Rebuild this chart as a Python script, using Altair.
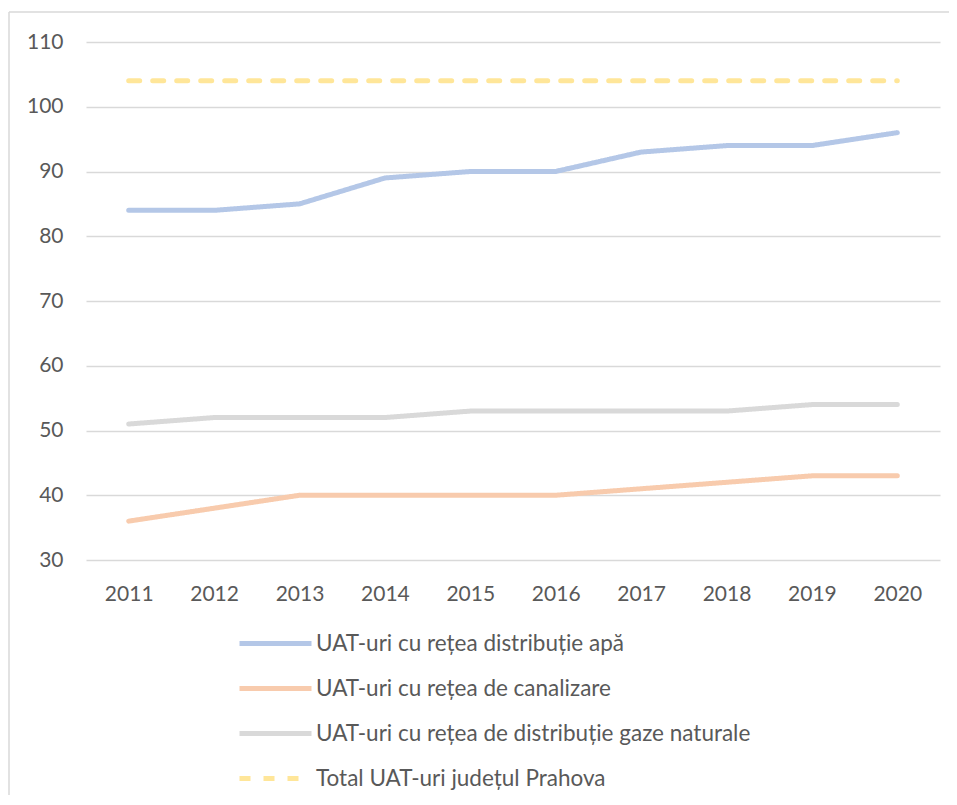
import altair as alt
import pandas as pd

years = ["2011", "2012", "2013", "2014", "2015", "2016", "2017", "2018", "2019", "2020"]
apa = [84, 84, 85, 89, 90, 90, 93, 94, 94, 96]
canalizare = [36, 38, 40, 40, 40, 40, 41, 42, 43, 43]
gaze = [51, 52, 52, 52, 53, 53, 53, 53, 54, 54]
total = [104, 104, 104, 104, 104, 104, 104, 104, 104, 104]

series_names = [
    "UAT-uri cu rețea distribuție apă",
    "UAT-uri cu rețea de canalizare",
    "UAT-uri cu rețea de distribuție gaze naturale",
    "Total UAT-uri județul Prahova",
]
series_values = [apa, canalizare, gaze, total]
colors = ["#B4C7E7", "#F8CBAD", "#D9D9D9", "#FFE699"]
dashes = [[1, 0], [1, 0], [1, 0], [11, 13]]
y_ticks = [30, 40, 50, 60, 70, 80, 90, 100, 110]

rows = []
for name, vals in zip(series_names, series_values):
    for yr, v in zip(years, vals):
        rows.append({"year": yr, "value": v, "series": name})
df = pd.DataFrame(rows)

FONT = "Lato"
TXT = "#595959"

legend = alt.Legend(
    title=None,
    orient="none",
    legendX=175,
    legendY=587,
    direction="vertical",
    symbolType="M-3,0H3",
    symbolSize=576,
    symbolStrokeWidth=5,
    labelFont=FONT,
    labelFontSize=22.5,
    labelColor=TXT,
    labelOffset=26,
    rowPadding=19,
    padding=0,
    labelLimit=700,
)

lines = alt.Chart(df).mark_line(strokeWidth=5, strokeCap="round", strokeJoin="round").encode(
    x=alt.X(
        "year:O",
        sort=years,
        scale=alt.Scale(type="point", padding=0.5),
        axis=alt.Axis(
            title=None, labelAngle=0, domain=False, ticks=False, grid=False,
            labelPadding=23, labelFont=FONT, labelFontSize=21, labelColor=TXT,
        ),
    ),
    y=alt.Y(
        "value:Q",
        scale=alt.Scale(domain=[30, 110], nice=False, zero=False),
        axis=alt.Axis(
            title=None, values=y_ticks, domain=False, ticks=False,
            labelPadding=23, labelFont=FONT, labelFontSize=21, labelColor=TXT,
            gridColor="#D9D9D9", gridWidth=1.5,
        ),
    ),
    color=alt.Color("series:N", sort=series_names,
                    scale=alt.Scale(domain=series_names, range=colors), legend=legend),
    strokeDash=alt.StrokeDash("series:N", sort=series_names,
                              scale=alt.Scale(domain=series_names, range=dashes), legend=legend),
)

frame_df = pd.DataFrame({"k": [0]})
frame_left = alt.Chart(frame_df).mark_rule(color="#D9D9D9", strokeWidth=1.5).encode(
    x=alt.value(-77), y=alt.value(-30), y2=alt.value(800)
)
frame_top = alt.Chart(frame_df).mark_rule(color="#D9D9D9", strokeWidth=1.5).encode(
    x=alt.value(-77), x2=alt.value(863), y=alt.value(-30)
)

chart = alt.layer(frame_left, frame_top, lines).properties(
    width=854,
    height=518,
    autosize=alt.AutoSizeParams(type="none"),
    padding={"left": 78, "top": 34, "right": 9, "bottom": 235},
    background="white",
).configure_view(stroke=None)

chart.save("out.html", embed_options={"renderer": "svg", "actions": False})
